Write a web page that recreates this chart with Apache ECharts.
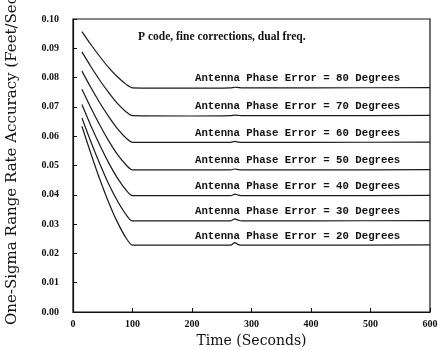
<!DOCTYPE html>
<html>
<head>
<meta charset="utf-8">
<script src="https://cdn.jsdelivr.net/npm/echarts@6/dist/echarts.min.js"></script>
<style>
    html, body { margin: 0; padding: 0; background: #fff; }
    #chart { width: 443px; height: 350px; }
</style>
</head>
<body>
<div id="chart"></div>
<script>
// 时间点 (秒)
const times = [15, 30, 45, 60, 75, 90, 100, 200, 265, 272, 278, 285, 400, 600];

// 各天线相位误差对应的精度曲线 (Feet/Sec)
const err80 = [0.0957, 0.0913, 0.0872, 0.0834, 0.0802, 0.0776, 0.0765, 0.0764, 0.0765, 0.0767, 0.0766, 0.0765, 0.0765, 0.0766];
const err70 = [0.0888, 0.0838, 0.0791, 0.0749, 0.0711, 0.0682, 0.0670, 0.0669, 0.0670, 0.0672, 0.0671, 0.0670, 0.0670, 0.0671];
const err60 = [0.0822, 0.0766, 0.0714, 0.0667, 0.0625, 0.0592, 0.0579, 0.0579, 0.0579, 0.0582, 0.0580, 0.0579, 0.0579, 0.0580];
const err50 = [0.0760, 0.0697, 0.0638, 0.0584, 0.0537, 0.0500, 0.0485, 0.0485, 0.0485, 0.0488, 0.0486, 0.0485, 0.0485, 0.0486];
const err40 = [0.0708, 0.0636, 0.0570, 0.0509, 0.0456, 0.0414, 0.0397, 0.0397, 0.0397, 0.0402, 0.0399, 0.0397, 0.0397, 0.0398];
const err30 = [0.0662, 0.0581, 0.0506, 0.0437, 0.0378, 0.0330, 0.0311, 0.0311, 0.0311, 0.0318, 0.0313, 0.0311, 0.0311, 0.0312];
const err20 = [0.0634, 0.0541, 0.0453, 0.0374, 0.0305, 0.0250, 0.0228, 0.0228, 0.0228, 0.0237, 0.0230, 0.0228, 0.0228, 0.0229];

const phaseErrors = [80, 70, 60, 50, 40, 30, 20];
const curves = [err80, err70, err60, err50, err40, err30, err20];

// 标签位置 (x 轴数值)
const labelAt = 550;

const chart = echarts.init(document.getElementById('chart'));

function makeSeries(deg, values) {
    const flat = values[values.length - 1];
    return {
        type: 'line',
        name: deg + ' Degrees',
        data: times.map((t, i) => [t, values[i]]),
        showSymbol: false,
        smooth: 0.25,
        lineStyle: { color: '#1a1a1a', width: 1.2 },
        markPoint: {
            symbol: 'circle',
            symbolSize: 0,
            silent: true,
            data: [{ coord: [labelAt, flat] }],
            label: {
                show: true,
                position: 'left',
                distance: 0,
                offset: [0, -9],
                formatter: 'Antenna Phase Error = ' + deg + ' Degrees',
                color: '#111',
                fontFamily: 'Liberation Mono',
                fontWeight: 'bold',
                fontSize: 10.7
            }
        }
    };
}

chart.setOption({
    animation: false,
    backgroundColor: '#fff',
    title: {
        text: 'P code, fine corrections, dual freq.',
        left: 133,
        top: 26,
        textStyle: {
            fontFamily: 'Liberation Serif',
            fontWeight: 'bold',
            fontSize: 11.5,
            color: '#111'
        }
    },
    grid: {
        left: 73,
        right: 13,
        top: 19,
        bottom: 38,
        outerBoundsMode: 'none',
        show: true,
        borderColor: '#111',
        borderWidth: 1.2
    },
    xAxis: {
        type: 'value',
        min: 0,
        max: 600,
        interval: 100,
        name: 'Time (Seconds)',
        nameLocation: 'middle',
        nameGap: 20,
        nameTextStyle: { fontFamily: 'DejaVu Serif', fontSize: 14, color: '#111' },
        axisLine: { lineStyle: { color: '#111', width: 1.2 } },
        axisTick: { inside: true, length: 4, lineStyle: { color: '#111' } },
        axisLabel: { fontFamily: 'Liberation Serif', fontWeight: 'bold', fontSize: 10, color: '#111', margin: 7 },
        splitLine: { show: false }
    },
    yAxis: {
        type: 'value',
        min: 0,
        max: 0.1,
        interval: 0.01,
        name: 'One-Sigma Range Rate Accuracy (Feet/Sec)',
        nameLocation: 'middle',
        nameGap: 53,
        nameTextStyle: { fontFamily: 'DejaVu Serif', fontSize: 15, color: '#111', padding: [0, 0, 0, 16] },
        axisLine: { lineStyle: { color: '#111', width: 1.2 } },
        axisTick: { inside: true, length: 4, lineStyle: { color: '#111' } },
        axisLabel: {
            fontFamily: 'Liberation Serif',
            fontWeight: 'bold',
            fontSize: 10,
            color: '#111',
            margin: 14,
            formatter: v => v.toFixed(2)
        },
        splitLine: { show: false }
    },
    series: phaseErrors.map((d, i) => makeSeries(d, curves[i]))
});
</script>
</body>
</html>
